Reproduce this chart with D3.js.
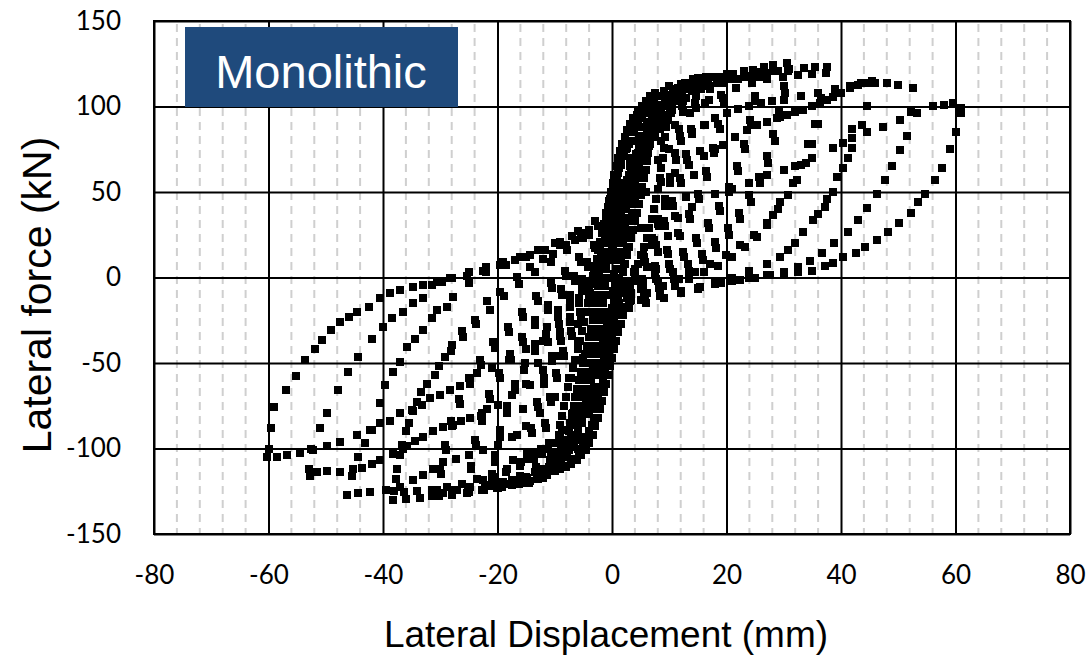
<!DOCTYPE html>
<html>
<head>
<meta charset="utf-8">
<script src="https://cdn.jsdelivr.net/npm/d3@7"></script>
<style>
  body { margin: 0; background: #fff; }
  text { font-family: Lato, "Open Sans", sans-serif; }
</style>
</head>
<body>
<svg id="chart" width="1089" height="656"></svg>
<script>
// axis ticks
var xTicks = [-80, -60, -40, -20, 0, 20, 40, 60, 80];
var yTicks = [-150, -100, -50, 0, 50, 100, 150];

var cycle01 = [[-1,-30],[-0.9,-20],[-0.7,-10],[-0.5,0],[-0.3,10],[0,20],[0.4,27],[0.8,30],
    [0.7,22],[0.6,12],[0.4,2],[0.2,-8],[0,-18],[-0.4,-26]];
var cycle02 = [[-2.2,-55],[-2.1,-45],[-2,-35],[-1.8,-25],[-1.6,-15],[-1.3,-5],[-1,5],[-0.7,15],[-0.3,25],[0.2,35],[0.8,44],[1.3,50],[1.8,55],
    [1.7,45],[1.5,35],[1.3,25],[1.1,15],[0.9,5],[0.6,-5],[0.3,-15],[-0.1,-25],[-0.6,-35],[-1.1,-44],[-1.7,-51]];
var cycle02b = [[-2.1,-52],[-2.05,-40],[-1.9,-30],[-1.7,-20],[-1.45,-10],[-1.15,0],[-0.85,10],[-0.5,20],[-0.05,30],[0.5,40],[1,47],[1.6,52],
    [1.6,40],[1.4,30],[1.2,20],[1,10],[0.75,0],[0.45,-10],[0.1,-20],[-0.35,-30],[-0.85,-40],[-1.4,-48]];
var cycle03 = [[-4,-80],[-3.9,-70],[-3.6,-60],[-3.3,-50],[-3,-40],[-2.7,-30],[-2.4,-20],[-2.1,-10],[-1.8,0],[-1.5,10],[-1.1,20],[-0.7,30],[-0.3,40],[0.2,50],[0.8,60],[1.6,68],[2.4,75],[3.3,80],
    [3.2,70],[3,60],[2.8,50],[2.5,40],[2.2,30],[1.9,20],[1.6,10],[1.3,0],[1,-10],[0.6,-20],[0.2,-30],[-0.3,-40],[-0.9,-50],[-1.6,-60],[-2.4,-68],[-3.2,-75]];
var cycle03b = [[-3.8,-75],[-3.75,-65],[-3.45,-55],[-3.15,-45],[-2.85,-35],[-2.55,-25],[-2.25,-15],[-1.95,-5],[-1.65,5],[-1.3,15],[-0.9,25],[-0.5,35],[-0.05,45],[0.5,55],[1.2,64],[2,72],[2.9,78],
    [3.1,65],[2.9,55],[2.65,45],[2.35,35],[2.05,25],[1.75,15],[1.45,5],[1.15,-5],[0.8,-15],[0.4,-25],[-0.05,-35],[-0.6,-45],[-1.25,-55],[-2,-64],[-2.8,-72]];
var cycle04 = [[-6,-100],[-5.9,-90],[-5.6,-80],[-5.2,-70],[-4.7,-60],[-4.2,-50],[-3.7,-40],[-3.2,-30],[-2.8,-20],[-2.4,-10],[-2.1,0],[-1.8,10],[-1.5,20],[-1.1,30],[-0.7,40],[-0.2,50],[0.4,60],[1,70],[1.8,78],[2.7,86],[3.7,93],[5,98],
    [4.9,88],[4.7,78],[4.5,68],[4.2,58],[3.9,48],[3.5,38],[3.1,28],[2.6,18],[2.1,8],[1.6,-2],[1.1,-12],[0.6,-22],[0.1,-32],[-0.4,-42],[-1,-52],[-1.6,-62],[-2.3,-72],[-3.1,-82],[-4,-90],[-5,-96]];
var cycle04b = [[-5.8,-95],[-5.75,-85],[-5.4,-75],[-4.95,-65],[-4.45,-55],[-3.95,-45],[-3.45,-35],[-3,-25],[-2.6,-15],[-2.25,-5],[-1.95,5],[-1.65,15],[-1.3,25],[-0.9,35],[-0.45,45],[0.1,55],[0.7,65],[1.4,74],[2.2,82],[3.2,90],[4.3,95],
    [4.8,83],[4.6,73],[4.35,63],[4.05,53],[3.7,43],[3.3,33],[2.85,23],[2.35,13],[1.85,3],[1.35,-7],[0.85,-17],[0.35,-27],[-0.15,-37],[-0.7,-47],[-1.3,-57],[-1.95,-67],[-2.7,-77],[-3.5,-86],[-4.5,-93]];
var cycle05 = [[-8,-110],[-7.9,-100],[-7.5,-90],[-7,-80],[-6.4,-70],[-5.7,-60],[-5,-50],[-4.3,-40],[-3.7,-30],[-3.1,-20],[-2.6,-10],[-2.2,0],[-1.8,10],[-1.4,20],[-1,30],[-0.5,40],[0.1,50],[0.8,60],[1.6,70],[2.5,80],[3.5,89],[4.6,97],[5.9,103],[7.5,108],
    [7.3,98],[7,88],[6.6,78],[6.1,68],[5.6,58],[5,48],[4.3,38],[3.6,28],[2.9,18],[2.2,8],[1.6,-2],[1.1,-12],[0.6,-22],[0.1,-32],[-0.4,-42],[-1,-52],[-1.6,-62],[-2.2,-72],[-3,-82],[-3.9,-92],[-5,-100],[-6.4,-106]];
var cycle05b = [[-7.8,-105],[-7.7,-95],[-7.25,-85],[-6.7,-75],[-6.05,-65],[-5.35,-55],[-4.65,-45],[-4,-35],[-3.4,-25],[-2.85,-15],[-2.4,-5],[-2,5],[-1.6,15],[-1.2,25],[-0.75,35],[-0.2,45],[0.45,55],[1.2,65],[2,75],[3,85],[4,93],[5.2,100],[6.7,106],
    [7.4,103],[7.15,93],[6.8,83],[6.35,73],[5.85,63],[5.3,53],[4.65,43],[3.95,33],[3.25,23],[2.55,13],[1.9,3],[1.35,-7],[0.85,-17],[0.35,-27],[-0.15,-37],[-0.7,-47],[-1.3,-57],[-1.9,-67],[-2.6,-77],[-3.45,-87],[-4.4,-96],[-5.7,-103],[-7.2,-108]];
var cycle06 = [[-10,-113],[-9.8,-103],[-9.3,-92],[-8.7,-81],[-8,-70],[-7.2,-59],[-6.4,-48],[-5.6,-37],[-4.9,-26],[-4.2,-15],[-3.6,-4],[-3,6],[-2.4,16],[-1.8,26],[-1.1,36],[-0.3,46],[0.6,56],[1.6,66],[2.7,76],[3.9,85],[5.2,93],[6.6,100],[8.2,106],[10,112],
    [9.8,100],[9.5,88],[9.1,76],[8.6,64],[8,52],[7.3,40],[6.5,29],[5.6,18],[4.6,8],[3.6,-2],[2.7,-12],[1.9,-22],[1.1,-32],[0.4,-42],[-0.3,-52],[-1,-62],[-1.7,-72],[-2.5,-82],[-3.4,-92],[-4.6,-101],[-6.2,-107],[-8,-111]];
var cycle06b = [[-9.9,-108],[-9.55,-97],[-9,-86],[-8.35,-75],[-7.6,-64],[-6.8,-53],[-6,-42],[-5.25,-31],[-4.55,-20],[-3.9,-9],[-3.3,1],[-2.7,11],[-2.1,21],[-1.45,31],[-0.7,41],[0.15,51],[1.1,61],[2.15,71],[3.3,80],[4.5,89],[5.9,96],[7.4,103],[9.1,109],
    [9.9,106],[9.65,94],[9.3,82],[8.85,70],[8.3,58],[7.65,46],[6.9,34],[6.05,23],[5.1,13],[4.1,3],[3.15,-7],[2.3,-17],[1.5,-27],[0.75,-37],[0.05,-47],[-0.65,-57],[-1.35,-67],[-2.1,-77],[-2.95,-87],[-3.95,-97],[-5.4,-104],[-7.1,-109],[-9,-112]];
var cycle12 = [[0,16],[0.85,30],[1.75,43],[2.65,57],[3.6,70],[4.85,81],[6.2,91],[7.7,99],[9.2,105],[10.7,110],[12,113],[12.8,114],
    [12.3,101],[11.7,87],[11,73],[10.1,59],[9.2,46],[8.1,34],[6.9,23],[5.5,13],[4,5],[2.5,-3],[1,-10],
    [-0.2,-22],[-1.1,-35],[-2.1,-50],[-3.2,-64],[-4.5,-77],[-5.9,-89],[-7.4,-99],[-8.9,-107],[-10.5,-113],[-12,-117],[-12.7,-117],
    [-12.3,-103],[-11.6,-88],[-10.7,-73],[-9.6,-59],[-8.4,-46],[-7,-34],[-5.5,-23],[-4,-12],[-2.5,-2],[-1,7]];
var cycle12b = [[0.1,14],[0.9,27],[1.8,40],[2.7,53],[3.7,66],[4.9,77],[6.3,87],[7.8,95],[9.3,101],[10.8,106],[12.1,109],[12.9,110],
    [12.4,97],[11.8,83],[11.1,69],[10.2,55],[9.3,42],[8.2,30],[7,19],[5.6,9],[4.1,1],[2.6,-6],[1.1,-13],
    [-0.3,-24],[-1.2,-37],[-2.2,-52],[-3.3,-66],[-4.6,-79],[-6,-91],[-7.5,-101],[-9,-108],[-10.6,-113],[-12.1,-115],[-12.8,-114],
    [-12.4,-100],[-11.7,-85],[-10.8,-70],[-9.7,-56],[-8.5,-43],[-7.1,-31],[-5.6,-20],[-4.1,-9],[-2.6,1],[-1.1,10]];
var cycle15 = [[0,18],[1,32],[2,46],[3,59],[4.2,72],[5.5,83],[7,93],[8.5,101],[10,107],[11.5,111],[13,114],[14.2,116],[15,116.5],
    [14.5,102],[13.8,87],[12.9,72],[11.8,58],[10.5,45],[9,33],[7.4,22],[5.6,12],[3.8,3],[2,-5],[0.3,-12],
    [-0.6,-26],[-1.6,-40],[-2.7,-55],[-3.9,-70],[-5.2,-83],[-6.6,-94],[-8.1,-103],[-9.7,-110],[-11.3,-115],[-13,-118],[-14.5,-120],[-15.3,-120],
    [-14.8,-106],[-14,-91],[-13,-76],[-11.8,-62],[-10.4,-49],[-8.9,-37],[-7.3,-26],[-5.7,-15],[-4,-5],[-2.3,4],[-0.7,12]];
var cycle15b = [[0.1,16],[1.1,29],[2.1,43],[3.1,56],[4.3,69],[5.6,80],[7.1,90],[8.6,98],[10.1,104],[11.6,108],[13.1,111],[14.3,113],[15.2,113.5],
    [14.7,99],[14,84],[13.1,69],[12,55],[10.7,42],[9.2,30],[7.6,19],[5.8,9],[4,0],[2.2,-8],[0.5,-15],
    [-0.7,-28],[-1.7,-42],[-2.8,-57],[-4,-72],[-5.3,-85],[-6.7,-96],[-8.2,-104],[-9.8,-111],[-11.4,-115.5],[-13.1,-118],[-14.6,-119],[-15.4,-118],
    [-14.9,-103],[-14.1,-88],[-13.1,-73],[-11.9,-59],[-10.5,-46],[-9,-34],[-7.4,-23],[-5.8,-12],[-4.1,-2],[-2.4,7],[-0.8,14]];
var cycle17 = [[0,20],[1.1,34],[2.2,48],[3.4,61],[4.7,74],[6.1,85],[7.7,94],[9.4,102],[11.1,108],[12.9,112],[14.7,115],[16.5,117],[17.5,117.5],
    [17,104],[16.3,89],[15.4,74],[14.3,60],[13,47],[11.5,35],[9.8,24],[8,15],[6.2,6],[4.3,-1],[2.3,-8],[0.6,-14],
    [-0.5,-27],[-1.6,-41],[-2.7,-56],[-4,-70],[-5.4,-83],[-6.9,-94],[-8.6,-103],[-10.4,-110],[-12.3,-115],[-14.3,-119],[-16.3,-121],[-17.8,-121],
    [-17.3,-107],[-16.6,-92],[-15.6,-77],[-14.4,-63],[-12.9,-50],[-11.2,-38],[-9.3,-27],[-7.3,-17],[-5.3,-8],[-3.3,1],[-1.3,9]];
var cycle20 = [[0.2,22],[1.2,36],[2.5,50],[3.8,63],[5.2,75],[6.8,86],[8.5,95],[10.3,102],[12.2,108],[14.2,112],[16.2,115.5],[18.2,117.5],[20,119],
    [19.4,105],[18.6,90],[17.6,76],[16.4,62],[15,49],[13.4,37],[11.6,26],[9.6,16],[7.5,7],[5.3,-1],[3.1,-7],[1,-13],
    [-0.5,-28],[-1.6,-42],[-2.8,-57],[-4.1,-71],[-5.6,-84],[-7.2,-95],[-9,-104],[-11,-111],[-13,-116],[-15.2,-119.5],[-17.5,-121.5],[-19.8,-122.5],[-21,-122],
    [-20.5,-108],[-19.6,-93],[-18.4,-79],[-17,-66],[-15.3,-54],[-13.5,-43],[-11.5,-33],[-9.5,-23],[-7.4,-14],[-5.3,-5],[-3.2,4],[-1.2,12]];
var cycle20b = [[0.3,20],[1.3,33],[2.6,47],[3.9,60],[5.3,72],[6.9,83],[8.6,92],[10.4,99],[12.3,105],[14.3,109],[16.3,112.5],[18.3,114.5],[20.2,116],
    [19.6,102],[18.8,87],[17.8,73],[16.6,59],[15.2,46],[13.6,34],[11.8,24],[9.8,14],[7.7,5],[5.5,-3],[3.3,-9],[1.2,-15],
    [-0.4,-26],[-1.5,-40],[-2.7,-54],[-4,-68],[-5.5,-81],[-7.1,-92],[-8.9,-101],[-10.9,-108],[-12.9,-113],[-15.1,-116.5],[-17.4,-118.5],[-19.7,-119.5],[-21,-119],
    [-20.4,-104],[-19.5,-89],[-18.3,-75],[-16.9,-62],[-15.2,-50],[-13.4,-39],[-11.4,-29],[-9.4,-19],[-7.3,-10],[-5.2,-1],[-3.1,7],[-1.1,14]];
var cycle25 = [[0,26],[1.5,41],[3,55],[4.6,68],[6.3,80],[8.2,90],[10.2,99],[12.3,106],[14.5,111],[16.8,115],[19,117.5],[21.1,119],[23,120.5],[24.6,121.5],[25.5,120],
    [24.9,106],[24.1,92],[23.1,78],[21.9,65],[20.4,53],[18.7,42],[16.8,32],[14.7,23],[12.4,15],[10,8],[7.5,2],[5,-4],[2.5,-9],[0.3,-14],
    [-0.2,-25],[-1.5,-39],[-2.8,-54],[-4.3,-69],[-6,-83],[-7.9,-95],[-10,-105],[-12.3,-112],[-14.8,-117],[-17.4,-120.5],[-20,-123],[-22.6,-124.5],[-25,-125.5],
    [-24.6,-112],[-23.8,-98],[-22.7,-84],[-21.3,-71],[-19.6,-59],[-17.7,-48],[-15.6,-38],[-13.4,-28],[-11.1,-19],[-8.8,-10],[-6.5,-2],[-4.2,6],[-2,14]];
var cycle25b = [[0,24],[1.6,38],[3.1,52],[4.7,65],[6.4,77],[8.3,87],[10.3,96],[12.4,103],[14.6,108],[16.9,112],[19.1,114.5],[21.2,116],[23.1,117.5],[24.7,118.5],[25.6,117],
    [25,103],[24.2,89],[23.2,75],[22,62],[20.5,50],[18.8,39],[16.9,29],[14.8,20],[12.5,12],[10.1,5],[7.6,-1],[5.1,-7],[2.6,-12],[0.4,-17],
    [-0.3,-27],[-1.6,-41],[-2.9,-56],[-4.4,-71],[-6.1,-85],[-8,-97],[-10.1,-106],[-12.4,-113],[-14.9,-118],[-17.5,-121],[-20.1,-123],[-22.7,-124],[-25.1,-124],
    [-24.7,-110],[-23.9,-95],[-22.8,-81],[-21.4,-68],[-19.7,-56],[-17.8,-45],[-15.7,-35],[-13.5,-25],[-11.2,-16],[-8.9,-7],[-6.6,1],[-4.3,9],[-2.1,16]];
var cycle30 = [[0,32],[1.6,46],[3.3,60],[5.1,73],[7.1,85],[9.3,95],[11.6,103],[14,109],[16.3,113.5],[18.3,115.5],[21.1,118.4],[24.6,121],[26.5,123],[28.1,124],[30.6,125.4],
    [30,112],[29.2,98],[28.2,84],[27,71],[25.6,59],[24,48],[22.2,38],[20.2,29],[18,21],[15.7,14],[13.2,8],[10.6,3],[8,-2],[5.4,-7],[2.8,-11],[0.5,-15],
    [-0.3,-28],[-1.6,-42],[-3,-57],[-4.6,-72],[-6.4,-86],[-8.5,-98],[-10.8,-107],[-13.4,-114],[-16.2,-119],[-19.2,-122.5],[-22.3,-124.5],[-25.3,-126],[-28,-127],[-30.3,-127.5],
    [-29.8,-115],[-29,-101],[-27.9,-87],[-26.5,-74],[-24.8,-62],[-22.8,-51],[-20.5,-41],[-18,-32],[-15.5,-23],[-13,-14],[-10.5,-6],[-8,1],[-5.5,9],[-3,17],[-1,24]];
var cycle30b = [[0,30],[1.7,43],[3.5,57],[5.4,70],[7.5,82],[9.8,92],[12.2,100],[14.7,106],[17.1,110.5],[19.5,113.5],[22,116],[24.6,118],[27,119.5],[29,120.5],[30.8,121],
    [30.2,108],[29.4,94],[28.4,80],[27.2,67],[25.8,55],[24.2,44],[22.4,34],[20.4,25],[18.2,17],[15.9,10],[13.4,4],[10.8,-1],[8.2,-6],[5.6,-10],[3,-14],[0.7,-18],
    [-0.2,-26],[-1.5,-40],[-2.9,-55],[-4.5,-69],[-6.3,-83],[-8.4,-95],[-10.7,-104],[-13.3,-111],[-16.1,-116],[-19.1,-119.5],[-22.2,-121.5],[-25.2,-123],[-28,-124],[-30.5,-124.5],
    [-30,-112],[-29.2,-98],[-28.1,-84],[-26.7,-71],[-25,-59],[-23,-48],[-20.7,-38],[-18.2,-29],[-15.7,-20],[-13.2,-11],[-10.7,-3],[-8.2,4],[-5.7,12],[-3.2,19],[-1.2,26]];
var cycle38 = [[0,40],[1.8,54],[3.7,67],[5.8,79],[8,89],[10.4,98],[13,105],[15.6,110],[18.3,114],[21,117],[23.6,118],[25.9,119.6],[28.5,121],[31,122],[33.5,122.5],[35.5,123],[37.5,123],
    [36.5,105],[35.5,90],[34.3,78],[33,66],[31.6,55],[29.3,44],[28.1,36.5],[27,30.7],[25.3,23.7],[23.3,17.8],[21,12],[18.5,7],[16,3],[13.5,-1],[11,-5],[8.4,-8],[5.8,-11],[3.2,-14],[1,-17],
    [-1,-30],[-2.2,-43],[-3.6,-57],[-5.2,-70],[-7,-82],[-9,-92],[-11.2,-100],[-13.6,-106],[-16.1,-110.5],[-18.6,-114],[-20.6,-116.5],[-22.5,-118.4],[-24.8,-122.5],[-27,-124],[-29.5,-126],[-31.5,-128],[-33.5,-129],[-36,-129.5],[-38.3,-130],
    [-37.8,-118],[-37,-104],[-36,-90],[-34.8,-78],[-33.3,-67],[-31,-57],[-29.2,-46.5],[-28,-39.5],[-26.2,-31],[-24,-25],[-21.8,-14],[-19.6,-8.5],[-16.6,0.3],[-14.3,6],[-12,11],[-10.3,14],[-8,19],[-5.5,26],[-3,33],[-1,38]];
var cycle38b = [[0,36],[2,48],[4,59],[6.2,70],[8.5,80],[11,89],[13.6,96],[16.3,102],[19,107],[21.7,111],[24.4,114],[27.1,116],[29.8,117.5],[32.5,118.5],[35,119],[37.4,119.5],
    [36.9,104],[36,90],[35,78],[33.8,67],[32.4,57],[30.8,48],[29,40],[27,32],[24.8,25],[22.4,19],[19.9,13],[17.2,8],[14.5,3],[11.7,-1],[8.9,-5],[6.1,-9],[3.3,-13],[0.8,-17],
    [-0.8,-27],[-2,-40],[-3.4,-54],[-5,-67],[-6.8,-79],[-8.8,-89],[-11,-97],[-13.4,-103],[-15.9,-108],[-18.4,-112],[-21,-115],[-23.6,-118],[-26.2,-120.5],[-28.8,-122.5],[-31.4,-124],[-34,-125],[-36.4,-125.5],[-38,-125],
    [-37.5,-112],[-36.6,-98],[-35.5,-85],[-34.1,-73],[-32.4,-62],[-30.3,-52],[-28.2,-43],[-26,-35],[-23.7,-27],[-21.3,-19],[-18.8,-11],[-16.2,-4],[-13.5,3],[-10.7,9],[-7.9,16],[-5.1,23],[-2.4,30]];
var cycle45 = [[0,40],[2,48],[4,56],[6,63],[8,69],[10,75],[12,80],[14,85],[16,89],[18,93],[20,96],[22,98.5],[24,100.5],[26,102],[28,103],[30,104],[33,106],[36,108],[39,110],[41.5,112],[43.5,114],[45.4,115],
    [44.5,100],[43.7,89],[42,87],[41.9,75.7],[41.2,70],[40.4,64],[39.3,59],[38.6,50],[37.5,46],[37.2,41],[36,37],[35.1,33.6],[33.4,26.6],[32,20],[30.7,16],[29.3,12],[27,8],[24,4],[21,0],[18,-3],[15,-6],[12,-9],[9,-12],[6,-15],[3,-18],
    [-1,-22],[-3,-35],[-5,-47],[-7.5,-59],[-10,-70],[-12.5,-79],[-15,-87],[-17.5,-93],[-20,-98],[-22.5,-101],[-25,-104],[-27.3,-106],[-29.5,-108],[-31.3,-112],[-33,-115.5],[-34.8,-118.4],[-37,-122.5],[-39.5,-124],[-42.3,-125.5],[-44.3,-126.3],[-46.3,-127],
    [-45.5,-116],[-44.4,-105],[-43.2,-97],[-42,-89],[-40.5,-73.4],[-39.6,-63],[-38.3,-55],[-37,-49.5],[-35.8,-40.6],[-34.4,-36],[-33,-30.7],[-31.4,-23.7],[-30.6,-19],[-28.8,-17],[-27.7,-11.4],[-25,-3],[-22,3],[-18.5,7.5],[-15,12],[-12,16],[-9,21],[-6,27],[-3,33]];
var cycle53 = [[0,35],[2,40],[4,45],[6,50],[8.5,56],[11,61],[13.5,66],[16,71],[18,75],[19.4,77.5],[21.5,82],[23.6,86],[25.3,89],[27,91],[28.8,93],[30.6,95],[32,96.5],[33.4,98],[35,100],[36.3,102],[37.5,104],[38.6,105.6],[40,108],[41.6,110.8],[43,112.5],[44.5,113.7],[46,114],[48,113.7],[50,112.5],[52.6,111],
    [52.3,97],[51.5,83],[50.3,74.5],[48.9,65],[47.6,57],[46.3,49],[44.5,40.6],[43,33.6],[41.2,26.6],[38.8,20],[36.7,14.3],[34.6,9.6],[32.5,6],[30,3.5],[27,1.5],[24,0],[21,-2],[18,-4],[15,-6.5],[12,-9],[9,-12],[6,-15],[3,-18],
    [0,-22],[-3,-30],[-6,-38],[-9,-46],[-12,-54],[-15,-62],[-17.5,-69],[-20,-74.6],[-21.8,-77],[-22.7,-79],[-24.8,-82],[-26.3,-84],[-27.8,-86],[-29.5,-87.4],[-31.3,-90],[-33,-93],[-34.4,-95.6],[-35.8,-98.6],[-36.5,-100],[-38.3,-103],[-40.5,-107],[-41.9,-109],[-43.7,-111.5],[-45.2,-112],[-47.5,-114],[-49.8,-113],[-51.5,-114],[-52.7,-116],[-53,-112],
    [-52.5,-100],[-51,-88],[-49.8,-79],[-47.9,-66],[-46.1,-55],[-44.4,-46.5],[-42,-36],[-40,-29],[-38.4,-23.7],[-36.5,-20],[-34.8,-15],[-33,-12],[-31.4,-4.4],[-29.7,-2.6],[-28,0],[-25,3],[-22,6],[-19,9],[-16,12],[-13,16],[-10,20],[-7,24],[-4,28],[-1,32]];
var cycle61 = [[2,28],[5,29],[8,31],[11,36],[14,41],[18,49],[21,52],[24,55],[27,60],[30,63],[32,65],[35,70],[38.6,76],[40.4,78.6],[42,81.5],[44.5,85],[47.3,88],[50.3,92],[53.3,96],[56,100],[58,101],[59.5,102],[61,99],[61,96],
    [60,85],[59,75],[57.6,64],[56.4,57],[54.7,49],[53.4,44],[52.2,38],[50.1,32],[48.2,26.6],[46.3,22],[44.2,17.8],[42.6,14.3],[40.4,12],[38.6,8.5],[37.2,6.7],[34.9,3.8],[32.5,3.2],[30,2],[27.6,1.5],[25,0],[22.4,-1.5],[19,-3],[15.4,-5.6],[12,-8],[8.4,-11],[5,-13],[3,-16],
    [0,-19],[-3,-23],[-6,-27],[-9,-32],[-12,-37],[-15,-42],[-18,-48],[-21,-53],[-23.6,-56],[-24.8,-60.5],[-26.6,-63.5],[-28.3,-65.8],[-30,-68.7],[-31.8,-70.5],[-33.2,-74.6],[-34.9,-77.5],[-37,-79],[-38.8,-84],[-40.5,-85],[-42.3,-89],[-44.5,-92],[-47.5,-96],[-49.8,-98.6],[-52.2,-101],[-54.5,-102.7],[-56.8,-104],[-58.5,-105],[-60.3,-105],[-60,-100],
    [-59.5,-88],[-59,-76],[-57,-66],[-55.2,-57.6],[-53.6,-48],[-51.9,-42],[-50.7,-36.5],[-49.1,-30.7],[-47.5,-26],[-45.9,-23],[-44.5,-20],[-42.4,-17],[-40.5,-12],[-38.8,-9],[-37,-7.5],[-34.8,-5.5],[-33,-4.4],[-30.6,-2.6],[-28.3,-0.3],[-25.3,1],[-22.5,4],[-19.6,7.3],[-17,10],[-14.3,13],[-11.7,16],[-9,19],[-6.5,22],[-4,25],[-1.5,26]];

var cycles = [cycle01, cycle02, cycle02b, cycle03, cycle03b, cycle04, cycle04b, cycle05, cycle05b,
    cycle06, cycle06b, cycle12, cycle12b, cycle15, cycle15b, cycle17, cycle20, cycle20b,
    cycle25, cycle25b, cycle30, cycle30b, cycle38, cycle38b, cycle45, cycle53, cycle61];

var svg = d3.select('#chart');
var plotLeft = 154, plotRight = 1070, plotTop = 21, plotBottom = 534;

var x = d3.scaleLinear().domain([-80, 80]).range([plotLeft, plotRight]);
var y = d3.scaleLinear().domain([-150, 150]).range([plotBottom, plotTop]);
var fmt = function(d) { return String(d); };

// dashed minor verticals every 4 mm
var minor = d3.range(-76, 80, 4).filter(function(v) { return v % 20 !== 0; });
svg.append('g')
    .selectAll('line')
    .data(minor)
  .enter().append('line')
    .attr('x1', function(d) { return x(d); })
    .attr('x2', function(d) { return x(d); })
    .attr('y1', plotTop + 3)
    .attr('y2', plotBottom)
    .attr('stroke', '#cfcfcf')
    .attr('stroke-width', 2)
    .attr('stroke-dasharray', '8,6');

// major grid
svg.append('g')
    .attr('transform', 'translate(0,' + plotBottom + ')')
    .call(d3.axisBottom(x).tickValues(xTicks).tickSize(-(plotBottom - plotTop)).tickFormat(''))
    .call(function(g) { g.select('.domain').remove(); })
    .selectAll('line').attr('stroke', '#000').attr('stroke-width', 2);

svg.append('g')
    .attr('transform', 'translate(' + plotLeft + ',0)')
    .call(d3.axisLeft(y).tickValues(yTicks).tickSize(-(plotRight - plotLeft)).tickFormat(''))
    .call(function(g) { g.select('.domain').remove(); })
    .selectAll('line').attr('stroke', '#000').attr('stroke-width', 2);

svg.append('rect')
    .attr('x', plotLeft).attr('y', plotTop)
    .attr('width', plotRight - plotLeft).attr('height', plotBottom - plotTop)
    .attr('fill', 'none').attr('stroke', '#000').attr('stroke-width', 2);

// tick labels
var xLab = svg.append('g')
    .attr('transform', 'translate(0,' + plotBottom + ')')
    .call(d3.axisBottom(x).tickValues(xTicks).tickSize(0).tickPadding(32).tickFormat(fmt));
xLab.select('.domain').remove();
xLab.selectAll('text').attr('font-size', 26).attr('fill', '#000')
    .style('font-family', 'Lato, sans-serif');

var yLab = svg.append('g')
    .attr('transform', 'translate(' + plotLeft + ',0)')
    .call(d3.axisLeft(y).tickValues(yTicks).tickSize(0).tickPadding(33).tickFormat(fmt));
yLab.select('.domain').remove();
yLab.selectAll('text').attr('font-size', 26).attr('fill', '#000')
    .style('font-family', 'Lato, sans-serif');

// markers
var pts = [];
cycles.forEach(function(c) { c.forEach(function(p) { pts.push(p); }); });
var ms = 8;
svg.append('g')
    .attr('shape-rendering', 'crispEdges')
    .selectAll('rect')
    .data(pts)
  .enter().append('rect')
    .attr('x', function(d) { return Math.round(x(d[0]) - ms / 2); })
    .attr('y', function(d) { return Math.round(y(d[1]) - ms / 2); })
    .attr('width', ms)
    .attr('height', ms)
    .attr('fill', '#000');

// label box
svg.append('rect')
    .attr('x', 185).attr('y', 27)
    .attr('width', 273).attr('height', 80)
    .attr('fill', '#1f4a7c');
svg.append('text')
    .attr('x', 321).attr('y', 88)
    .attr('text-anchor', 'middle')
    .attr('fill', '#fff')
    .attr('font-size', 47)
    .style('font-family', '"Liberation Sans", Arial, sans-serif')
    .text('Monolithic');

// axis titles
svg.append('text')
    .attr('x', 606).attr('y', 647)
    .attr('text-anchor', 'middle')
    .attr('font-size', 37)
    .style('font-family', '"Liberation Sans", Arial, sans-serif')
    .text('Lateral Displacement (mm)');

svg.append('text')
    .attr('transform', 'translate(51,' + 295 + ')rotate(-90)')
    .attr('text-anchor', 'middle')
    .attr('font-size', 41)
    .style('font-family', '"Liberation Sans", Arial, sans-serif')
    .text('Lateral force (kN)');
</script>
</body>
</html>
